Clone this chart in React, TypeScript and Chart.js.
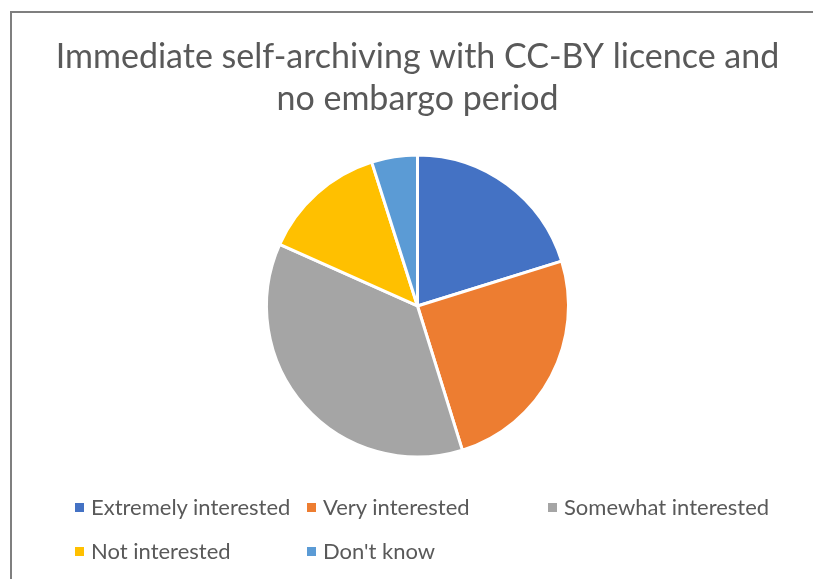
import React, { useEffect, useRef } from "react";
import { Chart, registerables } from "chart.js";

Chart.register(...registerables);

const TITLE_LINES = ["Immediate self-archiving with CC-BY licence and", "no embargo period"];
const CATEGORIES = ["Extremely interested", "Very interested", "Somewhat interested", "Not interested", "Don't know"];
const VALUES = [20.2, 25.0, 36.5, 13.4, 4.9];
const COLORS = ["#4472C4", "#ED7D31", "#A5A5A5", "#FFC000", "#5B9BD5"];

const FONT = "Lato, 'Open Sans', sans-serif";
const TEXT_COLOR = "#595959";

export default function App() {
  const ref = useRef<HTMLCanvasElement | null>(null);

  useEffect(() => {
    if (!ref.current) return;
    const chart = new Chart(ref.current, {
      type: "pie",
      data: {
        labels: CATEGORIES,
        datasets: [
          {
            data: VALUES,
            backgroundColor: COLORS,
            borderColor: "#ffffff",
            borderWidth: 3,
            radius: 151,
          } as any,
        ],
      },
      options: {
        responsive: false,
        animation: false,
        layout: { padding: { left: 22, right: 0, top: 0, bottom: 98 } },
        plugins: {
          legend: { display: false },
          tooltip: { enabled: false },
          title: {
            display: true,
            text: TITLE_LINES,
            color: TEXT_COLOR,
            font: { family: FONT, size: 34, weight: "normal", lineHeight: 1.235 },
            padding: { top: 36, bottom: 11 },
          },
        },
      },
    });
    return () => chart.destroy();
  }, []);

  return (
    <div style={{ position: "absolute", left: 0, top: 0, width: 813, height: 579, background: "#fff", overflow: "hidden" }}>
      <div
        style={{
          position: "absolute",
          left: 10,
          top: 11,
          width: 900,
          height: 700,
          borderTop: "2px solid #7f7f7f",
          borderLeft: "2px solid #7f7f7f",
        }}
      />
      <canvas ref={ref} width={813} height={579} style={{ position: "absolute", left: 0, top: 0 }} />
      <div
        style={{
          position: "absolute",
          left: 75,
          top: 492,
          display: "grid",
          gridTemplateColumns: "232px 241px auto",
          rowGap: 14,
          fontFamily: FONT,
          fontSize: 22,
          color: TEXT_COLOR,
          lineHeight: "30px",
        }}
      >
        {CATEGORIES.map((c, i) => (
          <div key={c} style={{ display: "flex", alignItems: "center", whiteSpace: "nowrap" }}>
            <span style={{ width: 9, height: 9, background: COLORS[i], marginRight: 7, display: "inline-block", flex: "none" }} />
            <span>{c}</span>
          </div>
        ))}
      </div>
    </div>
  );
}
